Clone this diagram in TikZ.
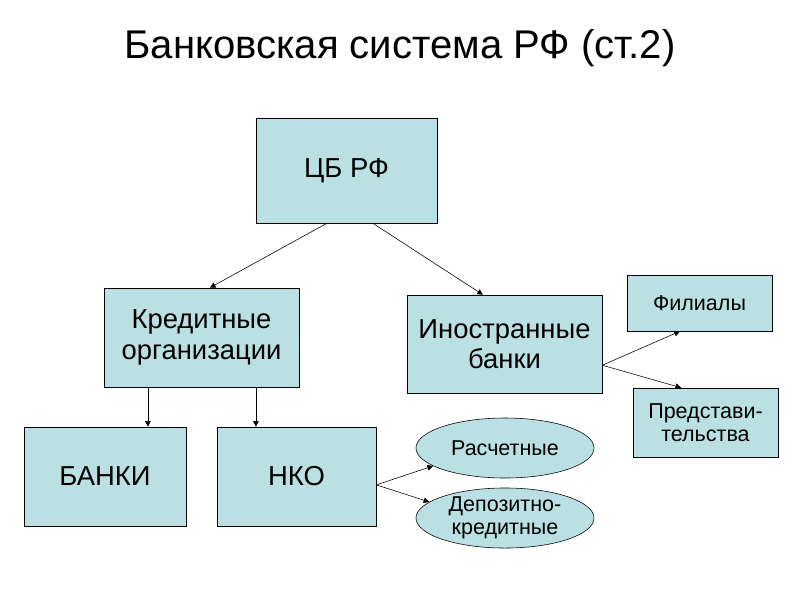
\documentclass[tikz,border=0pt]{standalone}
\usepackage{fontspec}
\setmainfont{Liberation Sans}
\usetikzlibrary{shapes.geometric,arrows.meta}
\definecolor{boxfill}{RGB}{187,224,227}

\begin{document}
\begin{tikzpicture}[x=0.025cm,y=-0.025cm]
        \tikzset{box/.style={draw,fill=boxfill,align=center,inner sep=0pt,font=\fontsize{19.5}{21.5}\selectfont},
            small/.style={box,font=\fontsize{15.3}{16.5}\selectfont},
            oval/.style={small,ellipse,minimum width=4.45cm,minimum height=1.5cm},
            link/.style={-{Triangle[length=4pt,width=4pt]},thin}}
        \useasboundingbox (0,0) rectangle (800,600);
        \node (title) at (400,48) {\fontsize{28.5}{34}\selectfont Банковская система РФ (ст.2)};
        \node[box,minimum width=4.525cm,minimum height=2.625cm] (cb) at (346.5,170.5) {ЦБ РФ};
        \node[box,minimum width=4.875cm,minimum height=2.475cm] (kred) at (201.5,337.5) {Кредитные\\организации};
        \node[box,minimum width=4.875cm,minimum height=2.45cm] (inos) at (504.5,344) {Иностранные\\банки};
        \node[small,minimum width=3.625cm,minimum height=1.4cm] (fil) at (699.5,303) {Филиалы};
        \node[small,minimum width=3.625cm,minimum height=1.725cm] (pred) at (705.5,422.5) {Представи-\\тельства};
        \node[box,minimum width=4.05cm,minimum height=2.475cm] (banki) at (105,476.5) {БАНКИ};
        \node[box,minimum width=3.975cm,minimum height=2.475cm] (nko) at (296.5,476.5) {НКО};
        \node[oval] (ras) at (505,448) {Расчетные};
        \node[oval] (dep) at (505,518) {Депозитно-\\кредитные};
        % arrows
        \coordinate (k1) at ([xshift=-1.34cm]kred.south);
        \coordinate (k2) at ([xshift=1.36cm]kred.south);
        \coordinate (i1) at ([yshift=-0.53cm]inos.east);
        \coordinate (n1) at ([yshift=-0.21cm]nko.east);
        \draw[link] ([xshift=-0.49cm]cb.south) -- ([xshift=0.21cm]kred.north);
        \draw[link] ([xshift=0.66cm]cb.south) -- ([xshift=-0.54cm]inos.north);
        \draw[link] (k1) -- (k1 |- banki.north);
        \draw[link] (k2) -- (k2 |- nko.north);
        \draw[link] (i1) -- ([xshift=-0.49cm]fil.south);
        \draw[link] (i1) -- ([xshift=-0.61cm]pred.north);
        \draw[link] (n1) -- (ras.194);
        \draw[link] (n1) -- (dep.168);
    \end{tikzpicture}
\end{document}
